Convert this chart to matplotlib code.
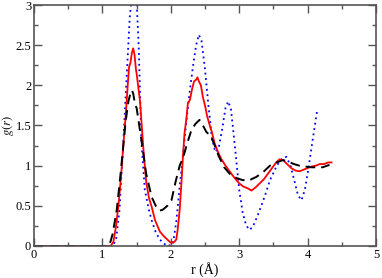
import matplotlib
matplotlib.use("Agg")
import matplotlib.pyplot as plt
from matplotlib.ticker import MultipleLocator

# Blue dotted series
blue_r = [0.0, 1.15, 1.2, 1.25, 1.3, 1.35, 1.4, 1.45, 1.5, 1.53, 1.57, 1.62, 1.68, 1.72, 1.78, 1.84, 1.9, 1.95,
          2.03, 2.08, 2.13, 2.18, 2.23, 2.28, 2.33, 2.37, 2.41, 2.45, 2.5, 2.55, 2.6, 2.65, 2.7, 2.75, 2.8, 2.84,
          2.88, 2.93, 3.0, 3.05, 3.1, 3.15, 3.2, 3.27, 3.37, 3.45, 3.55, 3.62, 3.69, 3.75, 3.81, 3.86, 3.91, 3.96,
          4.01, 4.07, 4.14]
blue_g = [0.0, 0.0, 0.08, 0.45, 1.2, 2.03, 2.85, 3.25, 3.05, 2.5, 1.3, 0.7, 0.45, 0.32, 0.17, 0.08, 0.03, 0.0,
          0.02, 0.3, 0.74, 1.15, 1.57, 1.95, 2.27, 2.5, 2.63, 2.55, 2.2, 1.75, 1.35, 1.17, 1.22, 1.45, 1.72, 1.8,
          1.7, 1.3, 0.7, 0.42, 0.26, 0.2, 0.24, 0.38, 0.61, 0.82, 1.0, 1.08, 1.11, 1.0, 0.8, 0.63, 0.57, 0.7,
          0.95, 1.3, 1.69]

# Red solid series
red_r = [0.0, 1.12, 1.16, 1.2, 1.24, 1.28, 1.31, 1.34, 1.37, 1.39, 1.41, 1.43, 1.45, 1.47, 1.49, 1.5, 1.55, 1.6,
         1.64, 1.68, 1.72, 1.77, 1.84, 1.9, 1.95, 2.0, 2.05, 2.08, 2.1, 2.13, 2.16, 2.18, 2.2, 2.23, 2.25, 2.28,
         2.31, 2.34, 2.37, 2.39, 2.41, 2.44, 2.47, 2.5, 2.53, 2.57, 2.6, 2.64, 2.69, 2.74, 2.8, 2.86, 2.92, 3.0,
         3.06, 3.12, 3.18, 3.24, 3.3, 3.36, 3.42, 3.48, 3.54, 3.59, 3.64, 3.7, 3.76, 3.82, 3.88, 3.94, 4.0, 4.06,
         4.12, 4.18, 4.24, 4.3, 4.35]
red_g = [0.0, 0.0, 0.05, 0.25, 0.55, 0.95, 1.3, 1.61, 2.0, 2.23, 2.28, 2.4, 2.46, 2.38, 2.2, 2.15, 1.8, 1.2,
         0.8, 0.6, 0.49, 0.32, 0.18, 0.12, 0.08, 0.04, 0.05, 0.08, 0.2, 0.45, 0.85, 1.15, 1.4, 1.6, 1.78, 1.82,
         1.95, 2.05, 2.07, 2.1, 2.05, 2.0, 1.85, 1.75, 1.62, 1.5, 1.42, 1.28, 1.17, 1.08, 1.0, 0.93, 0.86, 0.78,
         0.74, 0.72, 0.69, 0.73, 0.78, 0.83, 0.9, 0.97, 1.04, 1.08, 1.07, 1.02, 0.97, 0.94, 0.93, 0.95, 0.97, 0.99,
         1.0, 1.02, 1.02, 1.04, 1.04]

# Black dashed series
black_r = [0.0, 1.08, 1.11, 1.15, 1.21, 1.26, 1.3, 1.34, 1.38, 1.41, 1.43, 1.45, 1.48, 1.5, 1.53, 1.57, 1.64,
           1.72, 1.78, 1.83, 1.88, 1.95, 2.01, 2.07, 2.13, 2.18, 2.23, 2.3, 2.36, 2.42, 2.47, 2.52, 2.57, 2.62,
           2.7, 2.78, 2.86, 2.95, 3.05, 3.15, 3.25, 3.35, 3.45, 3.55, 3.64, 3.72, 3.8, 3.88, 3.96, 4.05, 4.15,
           4.22, 4.32]
black_g = [0.0, 0.0, 0.03, 0.15, 0.45, 0.85, 1.2, 1.55, 1.8, 1.9, 1.94, 1.9, 1.75, 1.72, 1.55, 1.32, 0.9,
           0.61, 0.5, 0.44, 0.45, 0.5, 0.57, 0.8, 1.0, 1.1, 1.25, 1.44, 1.52, 1.57, 1.5, 1.42, 1.38, 1.3,
           1.12, 0.98, 0.9, 0.85, 0.82, 0.82, 0.86, 0.92, 1.0, 1.04, 1.07, 1.05, 1.02, 1.0, 0.99, 0.98, 0.98,
           0.98, 1.01]

plt.rcParams['font.family'] = ['Liberation Serif', 'DejaVu Serif']
plt.rcParams['mathtext.fontset'] = 'stix'

fig = plt.figure(figsize=(3.82, 2.78), dpi=100)
ax = fig.add_axes([34/382, 32/278, 342/382, 241/278])

ax.plot(blue_r, blue_g, color='#0000ff', linestyle=(0, (1, 2)), linewidth=1.3)
ax.plot(red_r, red_g, color='#ff0000', linestyle='-', linewidth=1.3)
ax.plot(black_r, black_g, color='black', linestyle=(0, (5, 3)), linewidth=1.4)

ax.set_xlim(0, 5)
ax.set_ylim(0, 3)
ax.xaxis.set_major_locator(MultipleLocator(1))
ax.xaxis.set_minor_locator(MultipleLocator(0.5))
ax.yaxis.set_minor_locator(MultipleLocator(0.25))
ax.set_yticks([0, 0.5, 1, 1.5, 2, 2.5, 3])
ax.set_yticklabels(['0', '0.5', '1', '1.5', '2', '2.5', '3'])
ax.tick_params(which='both', direction='in', top=True, right=True, colors='#555555',
               labelcolor='black', labelsize=9, pad=2)
ax.tick_params(which='major', length=6, width=1)
ax.tick_params(which='minor', length=3, width=1)
for s in ax.spines.values():
    s.set_color('#555555')
    s.set_linewidth(1.2)

ax.set_xlabel('r (Å)', fontsize=10, labelpad=1)
ax.set_ylabel('$g(r)$', fontsize=9)
ax.yaxis.set_label_coords(-0.054, 0.5)

fig.savefig('out.png', dpi=100)
